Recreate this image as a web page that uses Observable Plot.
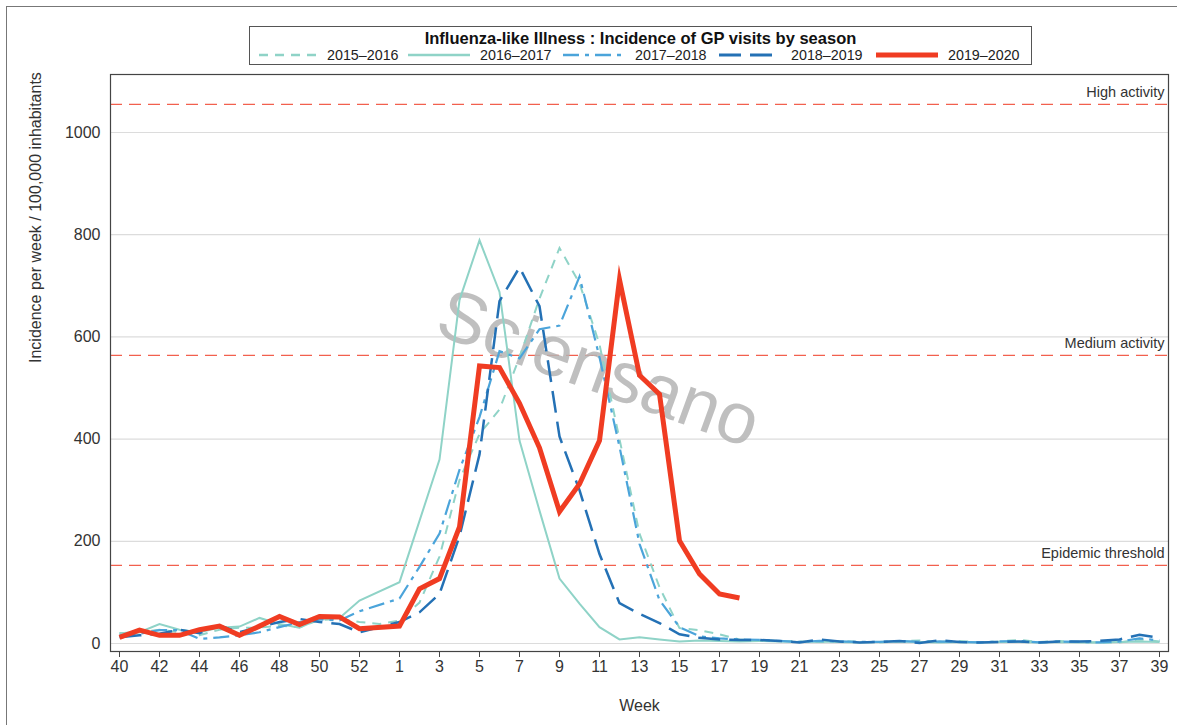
<!DOCTYPE html>
<html>
<head>
<meta charset="utf-8">
<script src="https://cdn.jsdelivr.net/npm/d3@7"></script>
<script src="https://cdn.jsdelivr.net/npm/@observablehq/plot@0.6"></script>
<style>
  body { margin: 0; background: #fff; font-family: "Liberation Sans", Arial, sans-serif; }
  #wrap { position: relative; width: 1177px; height: 725px; overflow: hidden; background: #fff; }
  #border { position: absolute; left: 6px; top: 6px; width: 1300px; height: 900px; border-left: 1.5px solid #777; border-top: 1.5px solid #777; z-index: 5; pointer-events: none; }
  #legend { position: absolute; left: 249px; top: 26px; width: 783px; height: 39px; box-sizing: border-box; border: 1px solid #555; background: #fff; z-index: 3; }
  #legend .title { position: absolute; left: 0; top: 1px; width: 100%; text-align: center; font-weight: bold; font-size: 16.5px; line-height: 20px; color: #111; }
  #legend .item { position: absolute; top: 19px; height: 18px; line-height: 18px; font-size: 14.3px; color: #222; white-space: nowrap; }
  #legend .item svg { position: absolute; top: 4px; left: 0; }
  #legend .item span { position: absolute; top: 0; }
  #chart { position: absolute; left: 0; top: 70px; z-index: 1; }
</style>
</head>
<body>
<div id="wrap">
  <div id="legend"><div class="title">Influenza-like Illness : Incidence of GP visits by season</div></div>
  <div id="chart"></div>
  <div id="border"></div>
</div>
<script>
// ---- data ----
const weeks = ["40","41","42","43","44","45","46","47","48","49","50","51","52","53",
  "1","2","3","4","5","6","7","8","9","10","11","12","13","14","15","16","17","18","19","20",
  "21","22","23","24","25","26","27","28","29","30","31","32","33","34","35","36","37","38","39"];
const xTickLabels = ["40","42","44","46","48","50","52","1","3","5","7","9","11","13","15","17","19",
  "21","23","25","27","29","31","33","35","37","39"];
const yTicks = [0, 200, 400, 600, 800, 1000];

const seasons = ["2015–2016", "2016–2017", "2017–2018", "2018–2019", "2019–2020"];

const s2015_2016 = [20,22,27,22,16,27,31,31,35,32,46,48,42,38,
  45,80,170,320,410,458,560,675,774,705,585,400,215,110,30,26,18,8,6,5,
  4,3,5,3,2,4,6,3,5,2,4,7,3,5,3,2,2,8,4];
const s2016_2017 = [20,22,38,27,22,31,33,50,38,31,48,50,84,null,
  120,240,360,672,789,688,397,260,127,78,32,8,12,8,4,6,5,4,5,4,
  3,4,3,2,3,4,3,2,3,2,3,3,2,3,2,2,3,4,3];
const s2017_2018 = [16,19,26,26,9,12,16,22,32,42,47,45,63,null,
  88,150,215,340,443,572,558,615,622,718,560,385,195,85,32,14,10,8,7,5,
  3,5,4,3,3,5,3,4,3,2,4,5,2,4,3,2,4,10,6];
const s2018_2019 = [12,16,19,27,20,35,22,32,42,48,42,38,22,null,
  42,61,97,210,370,670,736,660,405,300,175,79,58,40,18,11,8,7,7,5,
  2,8,4,2,3,5,1,6,3,2,3,4,2,4,4,5,8,17,11];
const s2019_2020 = [12,26,16,16,27,34,16,34,53,37,53,52,29,null,
  34,107,127,228,543,540,470,383,258,312,397,712,525,488,201,136,97,89,null,null,
  null,null,null,null,null,null,null,null,null,null,null,null,null,null,null,null,null,null,null];
const seriesValues = [s2015_2016, s2016_2017, s2017_2018, s2018_2019, s2019_2020];

const thresholdLabels = ["Epidemic threshold", "Medium activity", "High activity"];
const thresholdValues = [153, 564, 1055];

// ---- styles ----
const styles = [
  {stroke: "#8fd3c7", strokeWidth: 2, dash: "9,7"},
  {stroke: "#8fd3c7", strokeWidth: 2, dash: null},
  {stroke: "#4ba4da", strokeWidth: 2.2, dash: "16,6,4,6"},
  {stroke: "#2471b5", strokeWidth: 2.5, dash: "22,9"},
  {stroke: "#f03c22", strokeWidth: 5, dash: null}
];

const rowsFor = (vals) => weeks.map((w, i) => ({week: w, value: vals[i]})).filter(d => d.value != null);

const thresholds = thresholdLabels.map((l, i) => ({label: l, value: thresholdValues[i]}));

const lineMarks = seriesValues.map((vals, i) => Plot.line(rowsFor(vals), {
  x: "week", y: "value",
  stroke: styles[i].stroke,
  strokeWidth: styles[i].strokeWidth,
  strokeDasharray: styles[i].dash,
  strokeLinecap: "butt",
  strokeLinejoin: "miter",
  strokeMiterlimit: 10
}));

const chart = Plot.plot({
  width: 1177,
  height: 655,
  marginLeft: 110,
  marginRight: 9,
  marginTop: 4,
  marginBottom: 74,
  style: {fontFamily: "'Liberation Sans', Arial, sans-serif", fontSize: "16px", color: "#333", background: "transparent"},
  x: {type: "point", domain: weeks, range: [117.3, 1160.7], padding: 0},
  y: {domain: [-15.7, 1113.5]},
  marks: [
    Plot.gridY(yTicks, {stroke: "#dcdcdc", strokeOpacity: 1, strokeWidth: 1.2}),
    Plot.ruleY(thresholds, {y: "value", stroke: "#f2604e", strokeWidth: 1.2, strokeDasharray: "12,7"}),
    Plot.text(thresholds, {y: "value", text: "label", frameAnchor: "right", textAnchor: "end", dx: -4, dy: -12, fontSize: 14.5, fill: "#333"}),
    Plot.text(["Sciensano"], {frameAnchor: "middle", dx: -41, dy: 6, rotate: 20, fontSize: 72, fill: "#b4b4b4", fillOpacity: 0.85, text: d => d}),
    ...lineMarks,
    Plot.frame({stroke: "#444", strokeWidth: 1.2}),
    Plot.axisY({ticks: yTicks, tickFormat: d3.format("d"), tickSize: 0, tickPadding: 10, label: null, fill: "#333"}),
    Plot.axisX({ticks: xTickLabels, tickSize: 6, tickPadding: 3, label: null, fill: "#333", stroke: "#444"}),
    Plot.text(["Incidence per week / 100,000 inhabitants"], {frameAnchor: "left", rotate: -90, dx: -75, text: d => d, fontSize: 16, fill: "#333"}),
    Plot.text(["Week"], {frameAnchor: "bottom", dy: 59, text: d => d, fontSize: 16, fill: "#333"})
  ]
});
document.getElementById("chart").appendChild(chart);

// ---- legend ----
const legend = document.getElementById("legend");
const sampleLeft = [9, 158, 313, 469, 626];
const sampleWidth = [58, 62, 62, 62, 62];
seasons.forEach((s, i) => {
  const item = document.createElement("div");
  item.className = "item";
  item.style.left = sampleLeft[i] + "px";
  const st = styles[i];
  const w = sampleWidth[i];
  item.innerHTML = `<svg width="${w}" height="10"><line x1="0" x2="${w}" y1="5" y2="5" stroke="${st.stroke}" stroke-width="${i === 4 ? 5 : st.strokeWidth + 0.5}" ${st.dash ? `stroke-dasharray="${st.dash}"` : ""}/></svg><span style="left:${w + 10}px">${s}</span>`;
  legend.appendChild(item);
});
</script>
</body>
</html>
